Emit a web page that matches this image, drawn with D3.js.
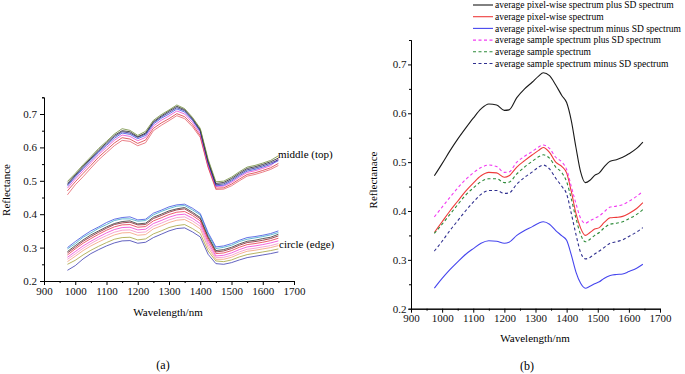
<!DOCTYPE html>
<html>
<head>
<meta charset="utf-8">
<script src="https://cdn.jsdelivr.net/npm/d3@7"></script>
<style>
  body { margin: 0; background: #fff; }
  svg text { font-family: "Liberation Serif", "Times New Roman", "DejaVu Serif", serif; }
</style>
</head>
<body>
<div id="chart"></div>
<script>
// ---- panel (a): individual spectra ----
const wlA = [975, 1000, 1025, 1050, 1075, 1100, 1125, 1150, 1175, 1200, 1225, 1250, 1275, 1300,
             1325, 1350, 1375, 1400, 1425, 1450, 1475, 1500, 1525, 1550, 1575, 1600, 1625, 1650];

const middleGreen   = [.498,.522,.548,.572,.597,.618,.640,.656,.651,.636,.648,.681,.698,.712,.727,.716,.690,.657,.565,.497,.499,.511,.527,.541,.546,.553,.561,.575];
const middleBlack   = [.492,.518,.544,.568,.593,.614,.636,.650,.647,.632,.643,.677,.694,.709,.723,.713,.687,.653,.560,.492,.495,.507,.523,.537,.542,.549,.557,.568];
const middleNavy    = [.488,.515,.540,.565,.589,.610,.632,.647,.643,.630,.640,.674,.691,.705,.719,.710,.684,.650,.556,.488,.491,.503,.519,.533,.538,.545,.553,.563];
const middleBlue    = [.484,.511,.536,.560,.585,.606,.627,.643,.639,.626,.636,.670,.687,.700,.715,.706,.681,.647,.553,.485,.487,.499,.515,.529,.534,.541,.549,.560];
const middleMagenta = [.478,.505,.530,.554,.579,.600,.621,.637,.633,.620,.630,.664,.681,.694,.709,.700,.675,.641,.548,.483,.484,.495,.511,.525,.530,.537,.545,.565];
const middleRed     = [.470,.497,.522,.546,.571,.592,.613,.629,.625,.612,.622,.657,.673,.686,.701,.692,.668,.635,.543,.478,.479,.490,.505,.519,.524,.531,.539,.552];
const middleSalmon  = [.458,.488,.512,.538,.563,.584,.605,.621,.618,.605,.614,.650,.666,.680,.695,.686,.662,.630,.540,.474,.475,.485,.500,.514,.519,.526,.534,.546];

const circleBlue    = [.300,.318,.335,.350,.362,.375,.385,.390,.392,.383,.385,.403,.412,.422,.428,.430,.418,.402,.345,.302,.305,.312,.322,.330,.333,.337,.342,.350];
const circleCyan    = [.296,.312,.331,.344,.358,.369,.381,.386,.386,.379,.381,.398,.408,.417,.424,.426,.413,.398,.340,.297,.301,.307,.318,.325,.329,.333,.338,.345];
const circleBlack   = [.288,.306,.323,.338,.350,.362,.372,.378,.380,.371,.373,.391,.400,.410,.416,.420,.406,.390,.334,.291,.294,.301,.311,.319,.322,.327,.331,.340];
const circleMaroon  = [.284,.301,.319,.333,.346,.358,.369,.374,.376,.368,.369,.387,.396,.406,.413,.416,.402,.386,.330,.287,.290,.297,.307,.315,.318,.322,.327,.335];
const circleRed     = [.278,.296,.313,.327,.340,.352,.362,.368,.369,.361,.363,.380,.389,.399,.406,.408,.396,.380,.324,.282,.284,.291,.301,.309,.312,.316,.321,.328];
const circleMagenta = [.271,.288,.305,.319,.332,.344,.354,.360,.361,.353,.355,.372,.381,.391,.398,.400,.388,.372,.316,.275,.277,.284,.294,.302,.305,.309,.314,.320];
const circlePink    = [.265,.281,.298,.312,.325,.336,.346,.352,.353,.345,.347,.364,.373,.383,.390,.392,.380,.364,.308,.270,.271,.277,.287,.295,.298,.302,.306,.312];
const circleOrange  = [.258,.274,.291,.305,.317,.328,.338,.344,.345,.337,.339,.356,.365,.375,.382,.384,.372,.356,.300,.265,.265,.271,.281,.289,.292,.296,.300,.306];
const circleOlive   = [.250,.262,.278,.292,.304,.315,.325,.330,.331,.323,.326,.341,.350,.360,.366,.369,.357,.342,.290,.260,.258,.263,.272,.279,.283,.287,.291,.296];
const circleNavy    = [.232,.246,.266,.282,.294,.305,.314,.320,.321,.313,.316,.330,.340,.350,.357,.359,.347,.332,.280,.252,.250,.255,.263,.270,.274,.278,.282,.287];

// ---- panel (b): averaged spectra ----
const wlB = [975, 1000, 1025, 1050, 1075, 1100, 1125, 1150, 1175, 1200, 1215, 1240, 1265, 1290, 1310, 1325, 1345,
             1365, 1385, 1400, 1415, 1430, 1445, 1460, 1475, 1490, 1505, 1520, 1540, 1560, 1580, 1600, 1625, 1645];

const pixelPlusSD   = [.472,.497,.523,.547,.569,.590,.609,.619,.617,.606,.607,.632,.650,.664,.676,.683,.677,.658,.636,.622,.585,.530,.480,.458,.463,.473,.478,.490,.502,.505,.510,.517,.528,.541];
const pixelMean     = [.356,.378,.400,.420,.440,.457,.472,.479,.478,.469,.472,.490,.503,.515,.524,.530,.520,.500,.491,.478,.440,.395,.365,.350,.356,.363,.366,.376,.386,.387,.389,.395,.405,.417];
const pixelMinusSD  = [.242,.262,.280,.296,.311,.323,.334,.339,.338,.334,.336,.350,.360,.368,.375,.378,.373,.360,.349,.340,.310,.275,.252,.242,.246,.251,.255,.262,.268,.270,.271,.276,.283,.291];
const samplePlusSD  = [.388,.408,.428,.447,.464,.478,.489,.494,.491,.479,.480,.500,.512,.522,.531,.535,.528,.510,.500,.485,.450,.415,.385,.375,.380,.385,.390,.398,.408,.410,.413,.420,.430,.440];
const sampleMean    = [.354,.373,.393,.413,.432,.447,.460,.466,.466,.458,.459,.476,.490,.502,.511,.515,.508,.490,.478,.460,.425,.385,.352,.337,.342,.350,.356,.365,.373,.375,.378,.384,.393,.403];
const sampleMinusSD = [.318,.338,.360,.380,.400,.418,.434,.442,.442,.436,.437,.455,.469,.480,.490,.494,.486,.467,.450,.435,.395,.352,.315,.302,.305,.312,.318,.325,.334,.337,.341,.348,.357,.366];

const legendLabels = [
  "average pixel-wise spectrum plus SD spectrum",
  "average pixel-wise spectrum",
  "average pixel-wise spectrum minus SD spectrum",
  "average sample spectrum plus SD spectrum",
  "average sample spectrum",
  "average sample spectrum minus SD spectrum"
];

const xTicks = d3.range(900, 1701, 100);
const xMinor = d3.range(950, 1700, 100);
const yTicks = [0.2, 0.3, 0.4, 0.5, 0.6, 0.7];
const yMinor = [0.25, 0.35, 0.45, 0.55, 0.65, 0.75];

const serif = "'Liberation Serif', 'Times New Roman', serif";

const svg = d3.select("#chart").append("svg")
    .attr("width", 685)
    .attr("height", 374)
    .attr("font-family", serif);

function drawAxes(g, x, y, tickSize, tickPad) {
  const bottom = y.range()[0];
  const left = x.range()[0];

  g.append("g")
      .attr("transform", `translate(0,${bottom})`)
      .call(d3.axisBottom(x).tickValues(xMinor).tickSize(2).tickFormat(""));
  const xa = g.append("g")
      .attr("transform", `translate(0,${bottom})`)
      .call(d3.axisBottom(x).tickValues(xTicks).tickSize(4).tickSizeOuter(0).tickPadding(2).tickFormat(d3.format("d")));

  g.append("g")
      .attr("transform", `translate(${left},0)`)
      .call(d3.axisLeft(y).tickValues(yMinor).tickSize(2).tickFormat(""));
  const ya = g.append("g")
      .attr("transform", `translate(${left},0)`)
      .call(d3.axisLeft(y).tickValues(yTicks).tickSize(tickSize).tickSizeOuter(0).tickPadding(tickPad).tickFormat(d3.format(".1f")));

  g.selectAll("g").attr("font-family", serif).attr("font-size", 11);
  g.selectAll(".domain").attr("stroke", "#000");
  g.selectAll(".tick line").attr("stroke", "#000");
  [xa, ya].forEach(a => a.selectAll(".tick text").attr("fill", "#111"));
}

// ===== panel (a) =====
const xA = d3.scaleLinear().domain([900, 1700]).range([44, 294]);
const yA = d3.scaleLinear().domain([0.2, 0.75]).range([281, 97.3]);
const gA = svg.append("g");
drawAxes(gA, xA, yA, 4, 3);

const seriesA = [
  { v: circleNavy,    c: "#3b3bb0" },
  { v: circleOlive,   c: "#a5a23a" },
  { v: circleOrange,  c: "#f2a07a" },
  { v: circlePink,    c: "#f58fc8" },
  { v: circleMagenta, c: "#ee3fd6" },
  { v: circleRed,     c: "#e8344a" },
  { v: circleMaroon,  c: "#8b1a2a" },
  { v: circleBlack,   c: "#333333" },
  { v: circleCyan,    c: "#3aa7c8" },
  { v: circleBlue,    c: "#3c4fe0" },
  { v: middleSalmon,  c: "#e5606a" },
  { v: middleRed,     c: "#d9343c" },
  { v: middleMagenta, c: "#e845d0" },
  { v: middleBlue,    c: "#3a49e6" },
  { v: middleNavy,    c: "#23237a" },
  { v: middleBlack,   c: "#222222" },
  { v: middleGreen,   c: "#6f8c3a" }
];

const lineA = d3.line()
    .x((d, i) => xA(wlA[i]))
    .y(d => yA(d));

gA.selectAll("path.spec")
  .data(seriesA)
  .join("path")
    .attr("class", "spec")
    .attr("fill", "none")
    .attr("stroke", d => d.c)
    .attr("stroke-width", 0.8)
    .attr("d", d => lineA(d.v));

gA.append("text")
    .attr("x", 278).attr("y", 158)
    .attr("font-size", 11)
    .text("middle (top)");
gA.append("text")
    .attr("x", 279).attr("y", 248)
    .attr("font-size", 11)
    .text("circle (edge)");

gA.append("text")
    .attr("x", 168).attr("y", 316)
    .attr("text-anchor", "middle")
    .attr("font-size", 11)
    .text("Wavelength/nm");
gA.append("text")
    .attr("transform", "translate(10,190) rotate(-90)")
    .attr("text-anchor", "middle")
    .attr("font-size", 11)
    .text("Reflectance");
gA.append("text")
    .attr("x", 163).attr("y", 369)
    .attr("text-anchor", "middle")
    .attr("font-size", 12)
    .text("(a)");

// ===== panel (b) =====
const xB = d3.scaleLinear().domain([900, 1700]).range([411, 660]);
const yB = d3.scaleLinear().domain([0.2, 0.75]).range([308.7, 40]);
const gB = svg.append("g");
drawAxes(gB, xB, yB, 3, 1.5);

const seriesB = [
  { v: pixelPlusSD,   c: "#1a1a1a", dash: null },
  { v: pixelMean,     c: "#ee3b3b", dash: null },
  { v: pixelMinusSD,  c: "#4646ee", dash: null },
  { v: samplePlusSD,  c: "#f23cf2", dash: "3,2.5" },
  { v: sampleMean,    c: "#2e8b3a", dash: "3,2.5" },
  { v: sampleMinusSD, c: "#2f2f8f", dash: "3,2.5" }
];

const lineB = d3.line()
    .x((d, i) => xB(wlB[i]))
    .y(d => yB(d))
    .curve(d3.curveMonotoneX);

gB.selectAll("path.avg")
  .data(seriesB)
  .join("path")
    .attr("class", "avg")
    .attr("fill", "none")
    .attr("stroke", d => d.c)
    .attr("stroke-width", 1.1)
    .attr("stroke-dasharray", d => d.dash)
    .attr("d", d => lineB(d.v));

const legend = gB.append("g");
legendLabels.forEach((label, i) => {
  const yy = 5 + i * 11.7;
  legend.append("line")
      .attr("x1", 473).attr("x2", 493)
      .attr("y1", yy).attr("y2", yy)
      .attr("stroke", seriesB[i].c)
      .attr("stroke-width", 1.1)
      .attr("stroke-dasharray", seriesB[i].dash);
  legend.append("text")
      .attr("x", 495).attr("y", yy + 3.3)
      .attr("font-size", 9.5)
      .text(label);
});

gB.append("text")
    .attr("x", 535).attr("y", 342)
    .attr("text-anchor", "middle")
    .attr("font-size", 11)
    .text("Wavelength/nm");
gB.append("text")
    .attr("transform", "translate(377,180) rotate(-90)")
    .attr("text-anchor", "middle")
    .attr("font-size", 11)
    .text("Reflectanace");
gB.append("text")
    .attr("x", 527).attr("y", 370)
    .attr("text-anchor", "middle")
    .attr("font-size", 12)
    .text("(b)");
</script>
</body>
</html>
